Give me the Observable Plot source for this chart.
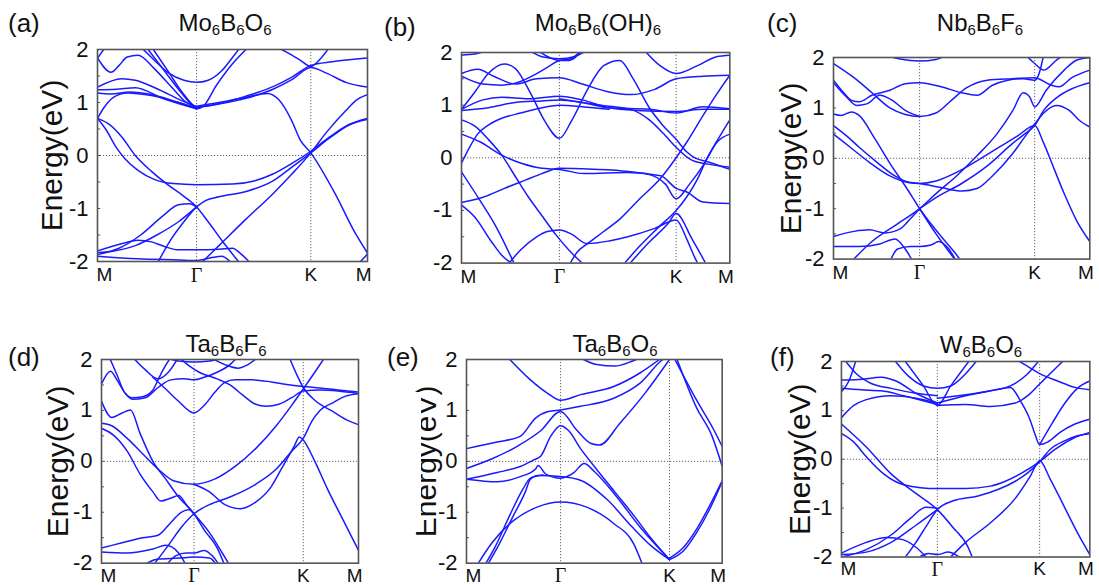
<!DOCTYPE html>
<html><head><meta charset="utf-8">
<script src="https://cdn.jsdelivr.net/npm/d3@7"></script>
<script src="https://cdn.jsdelivr.net/npm/@observablehq/plot@0.6"></script>
<style>
body{margin:0;background:#fff;}
#fig{position:relative;width:1099px;height:585px;overflow:hidden;font-family:"Liberation Sans",Arial,sans-serif;color:#111;}
.pl{position:absolute;}
.title{position:absolute;font-size:24px;line-height:1;white-space:nowrap;transform:translateX(-50%);}
.title sub{font-size:15px;vertical-align:-4px;line-height:0;}
.tag{position:absolute;font-size:26px;line-height:1;}
.mask{position:absolute;background:#fff;}
</style></head><body><div id="fig"></div>
<script>
// ---------- shared labels ----------
const kLabels = ["M", "Γ", "K", "M"];
const yTicks = [-2, -1, 0, 1, 2];
const minorTicks = [-1.5, -1, -0.5, 0, 0.5, 1, 1.5];

// high-symmetry positions (fraction of path) per panel
const hsA = [0, 0.367, 0.79, 1];
const hsB = [0, 0.365, 0.8, 1];
const hsC = [0, 0.336, 0.785, 1];
const hsD = [0, 0.36, 0.785, 1];
const hsE = [0, 0.368, 0.794, 1];
const hsF = [0, 0.386, 0.798, 1];

// ---------- (a) Mo6B6O6 bands [k, E] ----------
const bandsA = [
 [[0,0.7],[0.04,0.6],[0.09,0.35],[0.14,0],[0.2,-0.3],[0.26,-0.55],[0.32,-0.77],[0.367,-0.97],[0.41,-1.25],[0.46,-1.6],[0.53,-2.05]],
 [[0,0.7],[0.03,0.5],[0.07,0.15],[0.1,-0.05],[0.15,-0.28],[0.21,-0.45],[0.28,-0.53],[0.367,-0.55],[0.5,-0.54],[0.58,-0.48],[0.65,-0.35],[0.72,-0.15],[0.79,0.08],[0.86,0.35],[0.93,0.58],[1,0.7]],
 [[0.22,-2.05],[0.27,-1.6],[0.32,-1.25],[0.367,-0.97],[0.4,-0.85],[0.45,-0.78],[0.55,-0.68],[0.65,-0.48],[0.72,-0.22],[0.79,0.05],[0.86,0.33],[0.93,0.57],[1,0.68]],
 [[0.38,-2.05],[0.45,-1.7],[0.55,-1.2],[0.65,-0.72],[0.72,-0.35],[0.79,0.05],[0.85,0.45],[0.92,0.85],[0.96,1.05],[1,1.15]],
 [[0.367,0.93],[0.45,1.0],[0.55,1.1],[0.63,1.17],[0.67,1.06],[0.72,0.65],[0.75,0.3],[0.79,0.05],[0.88,-0.72],[0.95,-1.42],[1,-1.84]],
 [[0.16,2.05],[0.2,1.85],[0.26,1.57],[0.32,1.42],[0.367,1.38],[0.41,1.42],[0.46,1.6],[0.5,1.85],[0.53,2.05]],
 [[0.18,2.05],[0.24,1.65],[0.3,1.25],[0.35,0.95],[0.367,0.88],[0.39,0.92],[0.44,1.32],[0.5,1.73],[0.56,2.05]],
 [[0.2,2.05],[0.26,1.6],[0.32,1.15],[0.367,0.92],[0.45,0.98],[0.55,1.12],[0.65,1.3],[0.72,1.48],[0.79,1.7],[0.87,1.77],[1,1.84]],
 [[0.367,0.9],[0.45,0.97],[0.55,1.08],[0.65,1.25],[0.72,1.43],[0.79,1.66],[0.85,1.55],[0.92,1.38],[1,1.29]],
 [[0.66,2.05],[0.7,1.95],[0.75,1.8],[0.79,1.68],[0.83,1.85],[0.86,2.05]],
 [[0,1.84],[0.05,1.57],[0.08,1.7],[0.11,1.86],[0.15,1.89],[0.21,1.64],[0.28,1.26],[0.33,1.0],[0.367,0.92]],
 [[0,1.84],[0.03,2.05]],
 [[0,1.29],[0.09,1.45],[0.14,1.42],[0.22,1.26],[0.31,1.04],[0.367,0.92]],
 [[0,1.24],[0.07,1.25],[0.14,1.28],[0.24,1.08],[0.367,0.88]],
 [[0,1.18],[0.05,1.16],[0.12,1.2],[0.2,1.15],[0.3,1.0],[0.367,0.9]],
 [[0,0.7],[0.025,0.91],[0.06,1.1],[0.11,1.18],[0.2,1.13],[0.3,1.0],[0.367,0.88]],
 [[0,-1.83],[0.06,-1.8],[0.14,-1.7],[0.22,-1.5],[0.3,-1.25],[0.367,-0.97]],
 [[0,-1.87],[0.08,-1.75],[0.16,-1.5],[0.24,-1.15],[0.3,-0.93],[0.34,-0.91],[0.367,-0.97]],
 [[0,-1.8],[0.1,-1.65],[0.15,-1.6],[0.2,-1.63],[0.25,-1.72],[0.3,-1.78],[0.367,-1.78],[0.45,-1.77],[0.5,-1.75],[0.53,-1.85],[0.57,-2.05]],
 [[0,-1.9],[0.15,-1.95],[0.3,-1.97],[0.367,-1.98],[0.42,-1.93],[0.46,-1.9],[0.5,-2.05]],
 [[0.965,-2.05],[1,-1.86]]
];

// ---------- (b) Mo6B6(OH)6 ----------
const bandsB = [
 [[0,0.92],[0.05,1.25],[0.1,1.6],[0.16,1.78],[0.2,1.7],[0.26,1.2],[0.31,0.7],[0.365,0.37],[0.41,0.7],[0.47,1.3],[0.53,1.75],[0.59,1.85],[0.64,1.5],[0.7,0.95],[0.75,0.62],[0.8,0.35],[0.84,0.11],[0.87,0.0],[0.92,-0.08],[1,-0.22]],
 [[0,0.92],[0.08,1.1],[0.15,1.15],[0.25,1.12],[0.365,1.17],[0.45,1.1],[0.55,0.95],[0.65,0.9],[0.8,0.88],[0.9,0.92],[1,0.92]],
 [[0,0.9],[0.1,0.95],[0.2,1.05],[0.3,1.08],[0.365,1.1],[0.45,1.05],[0.55,0.95],[0.7,0.92],[0.8,0.85],[0.9,0.97],[1,0.93]],
 [[0,1.6],[0.06,1.68],[0.12,1.55],[0.2,1.4],[0.28,1.5],[0.365,1.52],[0.45,1.4],[0.55,1.25],[0.63,1.2],[0.72,1.3],[0.8,1.5],[0.9,1.55],[1,1.57]],
 [[0,1.55],[0.08,1.4],[0.15,1.38],[0.22,1.45],[0.28,1.6],[0.33,1.75],[0.365,1.85],[0.4,1.87],[0.45,2.05]],
 [[0,1.95],[0.05,1.97],[0.1,2.05]],
 [[0.25,2.05],[0.3,1.92],[0.365,1.88],[0.42,1.92],[0.47,2.05]],
 [[0.68,2.05],[0.74,1.75],[0.8,1.6],[0.88,1.75],[0.95,1.92],[1,1.95]],
 [[0,0.45],[0.07,0.3],[0.15,0.05],[0.22,-0.1],[0.3,-0.2],[0.365,-0.22],[0.456,-0.3],[0.54,-0.29],[0.617,-0.28],[0.742,-0.34],[0.8,-0.58],[0.84,-0.65],[0.9,-0.84],[1,-0.87]],
 [[0,-0.85],[0.08,-0.75],[0.16,-0.58],[0.24,-0.42],[0.3,-0.3],[0.365,-0.2],[0.45,-0.21],[0.6,-0.25],[0.7,-0.32],[0.76,-0.5],[0.8,-0.78],[0.85,-0.5],[0.9,-0.15],[0.95,0.3],[1,0.72]],
 [[0,0.72],[0.05,0.6],[0.1,0.35],[0.15,0.05],[0.2,-0.35],[0.25,-0.75],[0.3,-1.1],[0.35,-1.45],[0.4,-1.75],[0.46,-2.05]],
 [[0,-0.1],[0.03,0.2],[0.06,0.45],[0.1,0.62],[0.15,0.75],[0.22,0.85],[0.3,0.95],[0.365,1.0],[0.45,0.97],[0.55,0.92]],
 [[0,-0.27],[0.07,-0.82],[0.13,-1.32],[0.2,-2.05]],
 [[0,-0.9],[0.05,-1.13],[0.11,-1.58],[0.15,-1.85],[0.2,-2.05]],
 [[0.17,-2.05],[0.22,-1.75],[0.28,-1.5],[0.32,-1.4],[0.365,-1.37],[0.41,-1.45],[0.468,-1.63],[0.55,-1.58],[0.62,-1.5],[0.72,-1.34],[0.8,-1.18],[0.84,-1.55],[0.87,-1.9],[0.885,-2.05]],
 [[0.4,-2.05],[0.43,-1.8],[0.47,-1.63],[0.53,-1.4],[0.593,-1.15],[0.66,-0.8],[0.742,-0.39],[0.8,0.0],[0.84,0.3],[0.9,0.8],[0.95,1.2],[1,1.57]],
 [[0.6,-2.05],[0.66,-1.7],[0.73,-1.34],[0.8,-1.0],[0.84,-0.74],[0.88,-0.4],[0.916,0.0],[0.953,0.3],[1,0.45]],
 [[0.62,-2.05],[0.7,-1.6],[0.77,-1.25],[0.8,-1.06],[0.86,-1.55],[0.915,-2.05]],
 [[0.365,1.12],[0.45,1.05],[0.55,0.98],[0.63,0.92],[0.7,0.72],[0.76,0.42],[0.8,0.2],[0.86,-0.05],[0.92,-0.12],[1,-0.18]],
 [[0.28,2.05],[0.33,1.9],[0.365,1.85],[0.4,1.85],[0.45,2.05]]
];

// ---------- (c) Nb6B6F6 ----------
const bandsC = [
 [[0,0.48],[0.07,0.2],[0.14,-0.08],[0.22,-0.35],[0.29,-0.48],[0.336,-0.5],[0.4,-0.45],[0.48,-0.28],[0.56,-0.05],[0.64,0.2],[0.72,0.45],[0.785,0.65],[0.82,0.3],[0.86,-0.2],[0.9,-0.7],[0.95,-1.25],[1,-1.65]],
 [[0,0.65],[0.05,0.45],[0.1,0.22],[0.17,-0.08],[0.23,-0.32],[0.29,-0.47],[0.336,-0.5],[0.42,-0.58],[0.5,-0.65],[0.56,-0.6],[0.62,-0.35],[0.7,0.1],[0.75,0.45],[0.785,0.68],[0.82,0.9],[0.87,1.05],[0.92,0.95],[0.96,0.75],[1,0.62]],
 [[0.336,-1.0],[0.4,-0.78],[0.5,-0.5],[0.6,-0.15],[0.7,0.3],[0.75,0.5],[0.785,0.65],[0.82,0.95],[0.87,1.2],[0.93,1.38],[1,1.5]],
 [[0.07,-2.05],[0.15,-1.65],[0.25,-1.3],[0.336,-1.0],[0.4,-0.7],[0.48,-0.35],[0.56,0.05],[0.64,0.5],[0.7,0.95],[0.74,1.3],[0.765,1.22],[0.785,1.02],[0.83,1.35],[0.9,1.75],[0.95,1.95],[1,2.0]],
 [[0,0.88],[0.03,0.85],[0.07,0.92],[0.1,0.85],[0.16,0.4],[0.22,-0.1],[0.28,-0.55],[0.336,-1.0],[0.4,-1.5],[0.45,-1.85],[0.48,-2.05]],
 [[0,1.88],[0.08,1.6],[0.15,1.3],[0.22,1.0],[0.28,0.87],[0.336,0.83],[0.4,0.9],[0.46,1.15],[0.52,1.4],[0.6,1.55],[0.7,1.58],[0.785,1.6],[0.85,1.45],[0.88,1.42],[0.93,1.6],[1,1.75]],
 [[0,1.55],[0.04,1.3],[0.07,1.15],[0.1,1.12],[0.15,1.25],[0.22,1.35],[0.28,1.48],[0.336,1.5],[0.42,1.42],[0.5,1.3],[0.56,1.25],[0.62,1.45],[0.68,1.55],[0.74,1.58],[0.785,1.55],[0.8,1.65],[0.82,2.05]],
 [[0,1.5],[0.05,1.22],[0.09,1.05],[0.13,1.08],[0.18,1.25],[0.23,1.15],[0.28,0.95],[0.336,0.83]],
 [[0.2,2.05],[0.26,1.97],[0.336,1.93],[0.4,1.96],[0.44,2.05]],
 [[0.75,2.05],[0.785,1.88],[0.82,1.75],[0.87,1.95],[0.9,2.05]],
 [[0,-1.55],[0.08,-1.45],[0.14,-1.42],[0.2,-1.48],[0.26,-1.4],[0.3,-1.2],[0.336,-1.0]],
 [[0,-1.75],[0.1,-1.75],[0.18,-1.7],[0.24,-1.6],[0.28,-1.8],[0.31,-2.05]],
 [[0.22,-2.05],[0.25,-1.8],[0.3,-1.75],[0.336,-1.75],[0.38,-1.72],[0.41,-1.65],[0.45,-1.8],[0.48,-2.05]],
 [[0.336,-1.0],[0.38,-1.3],[0.42,-1.55],[0.47,-1.85],[0.5,-2.05]]
];

// ---------- (d) Ta6B6F6 ----------
const bandsD = [
 [[0,0.75],[0.04,0.7],[0.1,0.45],[0.16,0.15],[0.22,-0.15],[0.28,-0.38],[0.36,-0.45],[0.44,-0.35],[0.52,-0.1],[0.6,0.25],[0.68,0.7],[0.74,1.1],[0.785,1.42],[0.83,1.75],[0.87,2.05]],
 [[0,0.65],[0.05,0.5],[0.1,0.2],[0.15,-0.25],[0.2,-0.6],[0.23,-0.78],[0.27,-0.72],[0.3,-0.67],[0.33,-0.85],[0.36,-1.03],[0.42,-1.4],[0.47,-1.8],[0.5,-2.05]],
 [[0.2,-2.05],[0.26,-1.65],[0.31,-1.3],[0.36,-1.03],[0.42,-0.85],[0.5,-0.7],[0.6,-0.45],[0.68,-0.15],[0.74,0.2],[0.785,0.45],[0.82,0.8],[0.85,1.0],[0.9,1.15],[0.95,1.28],[1,1.33]],
 [[0.36,-0.45],[0.42,-0.6],[0.48,-0.85],[0.54,-0.93],[0.6,-0.8],[0.66,-0.5],[0.7,-0.15],[0.75,0.3],[0.77,0.48],[0.785,0.42],[0.83,0.0],[0.88,-0.55],[0.94,-1.15],[1,-1.75]],
 [[0.2,1.65],[0.25,1.42],[0.3,1.18],[0.36,0.95],[0.4,1.1],[0.44,1.35],[0.48,1.55],[0.52,1.6],[0.586,1.6],[0.66,1.56],[0.72,1.51],[0.785,1.47],[0.85,1.44],[0.92,1.4],[1,1.36]],
 [[0.3,2.05],[0.34,1.88],[0.38,1.75],[0.45,1.62],[0.5,1.5],[0.55,1.3],[0.6,1.12],[0.64,1.08],[0.69,1.12],[0.74,1.25],[0.785,1.38],[0.85,1.4],[0.92,1.38],[1,1.33]],
 [[0,1.18],[0.04,0.86],[0.08,0.95],[0.113,1.01],[0.15,0.55],[0.2,0.0],[0.25,-0.35],[0.3,-0.7],[0.36,-1.03],[0.4,-1.35],[0.45,-1.7],[0.48,-2.05]],
 [[0,1.52],[0.035,1.77],[0.06,1.6],[0.09,1.35],[0.12,1.22],[0.17,1.25],[0.22,1.45],[0.27,1.6],[0.32,1.62],[0.36,1.6],[0.4,1.65],[0.45,1.75],[0.5,1.9],[0.53,2.05]],
 [[0.03,2.05],[0.06,1.7],[0.09,1.35],[0.12,1.25],[0.16,1.27],[0.2,1.4],[0.22,1.6],[0.24,1.8],[0.27,2.05]],
 [[0.12,2.05],[0.17,1.8],[0.22,1.62],[0.26,1.75],[0.3,2.05]],
 [[0.24,2.05],[0.3,1.97],[0.36,1.95],[0.42,1.97],[0.48,2.05]],
 [[0.42,2.05],[0.48,1.9],[0.53,1.83],[0.57,1.9],[0.61,2.05]],
 [[0.73,2.05],[0.76,1.7],[0.785,1.45],[0.83,1.2],[0.9,0.98],[0.96,0.8],[1,0.72]],
 [[0,-1.7],[0.08,-1.6],[0.16,-1.5],[0.22,-1.45],[0.27,-1.2],[0.31,-1.0],[0.34,-0.95],[0.36,-1.03]],
 [[0,-1.78],[0.1,-1.8],[0.2,-1.72],[0.25,-1.65],[0.3,-1.8],[0.33,-2.05]],
 [[0.25,-2.05],[0.29,-1.85],[0.33,-1.8],[0.36,-1.8],[0.4,-1.75],[0.43,-1.85],[0.46,-2.05]],
 [[0.16,-2.05],[0.22,-1.92],[0.3,-1.9],[0.36,-1.88],[0.42,-1.9],[0.45,-2.05]]
];

// ---------- (e) Ta6B6O6 ----------
const bandsE = [
 [[0.16,2.05],[0.25,1.6],[0.316,1.34],[0.368,1.2],[0.446,1.31],[0.576,1.47],[0.68,1.74],[0.76,2.02]],
 [[0.45,2.02],[0.51,1.9],[0.58,1.87],[0.65,1.97],[0.68,2.03]],
 [[0,0.25],[0.12,0.38],[0.21,0.49],[0.27,0.85],[0.32,0.98],[0.368,1.01],[0.446,1.08],[0.576,1.24],[0.68,1.54],[0.76,1.97],[0.78,2.05]],
 [[0,-0.14],[0.1,0.05],[0.2,0.3],[0.29,0.6],[0.368,0.98],[0.43,0.62],[0.487,0.35],[0.52,0.32],[0.6,0.75],[0.7,1.35],[0.794,2.0]],
 [[0,-0.35],[0.12,-0.22],[0.21,-0.1],[0.26,0.02],[0.29,0.1],[0.33,0.5],[0.368,0.7],[0.4,0.6],[0.446,0.25],[0.5,-0.1],[0.58,-0.6],[0.66,-1.1],[0.72,-1.5],[0.794,-1.93]],
 [[0,-0.35],[0.12,-0.4],[0.21,-0.3],[0.27,-0.15],[0.28,-0.08],[0.31,-0.25],[0.368,-0.33],[0.42,-0.22],[0.46,-0.04],[0.5,-0.2],[0.58,-0.65],[0.68,-1.3],[0.794,-1.93]],
 [[0.08,-2.05],[0.12,-1.7],[0.18,-1.1],[0.23,-0.6],[0.25,-0.35],[0.28,-0.28],[0.368,-0.3],[0.45,-0.38],[0.55,-0.75],[0.65,-1.3],[0.72,-1.65],[0.794,-1.93]],
 [[0.07,-2.05],[0.11,-1.7],[0.17,-1.05],[0.22,-0.55],[0.25,-0.33],[0.3,-0.27]],
 [[0.04,-2.05],[0.1,-1.6],[0.185,-1.16],[0.276,-0.9],[0.368,-0.8],[0.47,-0.9],[0.576,-1.22],[0.654,-1.62],[0.69,-2.05]],
 [[0.794,-1.93],[0.85,-1.75],[0.9,-1.4],[0.95,-0.95],[1,-0.4]],
 [[0.794,-1.9],[0.85,-1.68],[0.9,-1.33],[0.95,-0.88],[1,-0.38]],
 [[0.81,2.05],[0.9,1.2],[0.967,0.62],[1,0.29]],
 [[0.82,2.05],[0.9,1.05],[0.96,0.5],[1,-0.1]]
];

// ---------- (f) W6B6O6 ----------
const bandsF = [
 [[0,0.72],[0.1,0.25],[0.2,-0.3],[0.3,-0.7],[0.386,-1.03],[0.45,-1.4],[0.51,-1.8],[0.53,-2.05]],
 [[0,0.53],[0.05,0.35],[0.1,0.05],[0.17,-0.3],[0.25,-0.52],[0.386,-0.6],[0.5,-0.6],[0.6,-0.55],[0.66,-0.45],[0.72,-0.3],[0.798,-0.05],[0.86,0.2],[0.93,0.42],[1,0.55]],
 [[0.25,-2.05],[0.3,-1.7],[0.35,-1.3],[0.386,-1.03],[0.45,-0.85],[0.55,-0.75],[0.63,-0.62],[0.7,-0.45],[0.75,-0.28],[0.798,-0.05],[0.84,0.2],[0.9,0.38],[0.95,0.48],[1,0.52]],
 [[0.43,-2.05],[0.5,-1.7],[0.6,-1.3],[0.7,-0.8],[0.76,-0.35],[0.798,-0.03],[0.84,-0.4],[0.9,-1.0],[0.95,-1.5],[1,-1.95]],
 [[0.386,1.15],[0.5,1.3],[0.6,1.4],[0.68,1.47],[0.72,1.2],[0.76,0.8],[0.78,0.5],[0.798,0.3],[0.83,0.35],[0.88,0.55],[0.94,0.72],[1,0.82]],
 [[0.21,2.05],[0.27,1.7],[0.33,1.5],[0.386,1.45],[0.44,1.5],[0.5,1.75],[0.55,2.05]],
 [[0.25,2.05],[0.33,1.5],[0.386,1.1],[0.44,1.5],[0.52,2.05]],
 [[0.386,1.25],[0.5,1.32],[0.6,1.4],[0.68,1.5],[0.75,1.75],[0.8,2.05]],
 [[0.7,2.05],[0.75,1.9],[0.798,1.75],[0.87,1.6],[0.94,1.47],[1,1.42]],
 [[0.798,0.3],[0.85,0.75],[0.9,1.15],[0.95,1.45],[1,1.6]],
 [[0,1.62],[0.07,1.63],[0.16,1.68],[0.22,1.6],[0.3,1.35],[0.386,1.15]],
 [[0,1.45],[0.08,1.42],[0.16,1.4],[0.25,1.3],[0.386,1.12]],
 [[0.386,1.1],[0.5,1.12],[0.6,1.08],[0.7,1.15],[0.75,1.3],[0.8,1.55],[0.85,1.8],[0.9,2.05]],
 [[0,0.85],[0.05,1.1],[0.1,1.22],[0.2,1.3],[0.3,1.25],[0.386,1.15]],
 [[0,1.38],[0.03,1.6],[0.06,2.05]],
 [[0.01,2.05],[0.06,1.75],[0.12,1.55],[0.2,1.45],[0.3,1.35],[0.386,1.3]],
 [[0,-1.95],[0.1,-1.9],[0.2,-1.7],[0.3,-1.35],[0.386,-1.03]],
 [[0,-2.0],[0.1,-1.85],[0.2,-1.55],[0.28,-1.2],[0.34,-0.98],[0.386,-1.0]],
 [[0,-1.92],[0.1,-1.7],[0.18,-1.6],[0.25,-1.65],[0.3,-1.8],[0.35,-2.05]],
 [[0.3,-2.05],[0.35,-1.93],[0.386,-1.95],[0.43,-1.9],[0.48,-2.0],[0.52,-2.05]]
];

// ---------- layout config (frame in page pixels) ----------
const panels = [
 {bands: bandsA, hs: hsA, l: 96.7, r: 366.7, t: 49, b: 261, lab: 44.7, xdy: 6},
 {bands: bandsB, hs: hsB, l: 461, r: 729.3, t: 51.7, b: 262.3, lab: null, xdy: 6},
 {bands: bandsC, hs: hsC, l: 832.7, r: 1089, t: 56.7, b: 258.3, lab: 42, xdy: 6},
 {bands: bandsD, hs: hsD, l: 100.7, r: 357.7, t: 359, b: 562.7, lab: 42.7, xdy: 5},
 {bands: bandsE, hs: hsE, l: 466, r: 721.7, t: 359, b: 562.7, lab: 40.6, xdy: 5},
 {bands: bandsF, hs: hsF, l: 840.7, r: 1089.3, t: 361, b: 556.7, lab: 40.7, xdy: 5}
];
const titles = [
 {html: "Mo<sub>6</sub>B<sub>6</sub>O<sub>6</sub>", cx: 225, top: 11},
 {html: "Mo<sub>6</sub>B<sub>6</sub>(OH)<sub>6</sub>", cx: 598, top: 11},
 {html: "Nb<sub>6</sub>B<sub>6</sub>F<sub>6</sub>", cx: 980, top: 11},
 {html: "Ta<sub>6</sub>B<sub>6</sub>F<sub>6</sub>", cx: 226, top: 332},
 {html: "Ta<sub>6</sub>B<sub>6</sub>O<sub>6</sub>", cx: 615, top: 332},
 {html: "W<sub>6</sub>B<sub>6</sub>O<sub>6</sub>", cx: 981, top: 333}
];
const tags = [
 {t: "(a)", x: 8, y: 10}, {t: "(b)", x: 384, y: 14}, {t: "(c)", x: 767, y: 10},
 {t: "(d)", x: 8, y: 344}, {t: "(e)", x: 387, y: 344}, {t: "(f)", x: 770, y: 344}
];

const fig = document.getElementById("fig");
const SANS = '"Liberation Sans", Arial, sans-serif';
const SERIF = '"Liberation Serif", "Times New Roman", serif';
const BLUE = "#1a1aff";
const GRAY = "#555";

function panel(cfg) {
  const rows = cfg.bands.flatMap((b, i) => b.map(([k, E]) => ({band: i, k, E})));
  const mL = 72, mR = 10, mT = 14, mB = 28;
  const W = cfg.r - cfg.l, H = cfg.b - cfg.t;
  const hs = cfg.hs;
  const lab = {frameAnchor: "bottom", lineAnchor: "top", dy: cfg.xdy, fontSize: 19};
  const marks = [
    Plot.ruleY([0], {stroke: GRAY, strokeWidth: 0.9, strokeDasharray: "1.2,1.8"}),
    Plot.ruleX([hs[1], hs[2]], {stroke: GRAY, strokeWidth: 0.9, strokeDasharray: "1.2,1.8"}),
    Plot.line(rows, {x: "k", y: "E", z: "band", stroke: BLUE, strokeWidth: 1.5, curve: "monotone-x", clip: true}),
    Plot.ruleY(minorTicks, {x1: 0, x2: 0.012, stroke: GRAY, strokeWidth: 1}),
    Plot.frame({stroke: GRAY, strokeWidth: 1.6}),
    Plot.axisY(yTicks, {anchor: "left", tickSize: 0, tickPadding: 9, fontSize: 22, label: null,
      tickFormat: d => (d < 0 ? "-" + Math.abs(d) : String(d))}),
    Plot.text([0], {...lab, x: i => hs[i], text: i => kLabels[i], textAnchor: "start", dx: -1}),
    Plot.text([1], {...lab, x: i => hs[i], text: i => kLabels[i], textAnchor: "middle", fontSize: 20, fontFamily: SERIF}),
    Plot.text([2], {...lab, x: i => hs[i], text: i => kLabels[i], textAnchor: "middle"}),
    Plot.text([3], {...lab, x: i => hs[i], text: i => kLabels[i], textAnchor: "end", dx: 4})
  ];
  if (cfg.lab != null) {
    marks.push(Plot.text(["Energy(eV)"], {text: d => d, frameAnchor: "left", rotate: -90, dx: -cfg.lab, fontSize: 30, textAnchor: "middle", lineAnchor: "middle"}));
  }
  const svg = Plot.plot({
    width: W + mL + mR, height: H + mT + mB,
    marginLeft: mL, marginRight: mR, marginTop: mT, marginBottom: mB,
    x: {domain: [0, 1], axis: null},
    y: {domain: [-2, 2]},
    style: {fontFamily: SANS, background: "none", overflow: "visible", color: "#111"},
    marks
  });
  const wrap = document.createElement("div");
  wrap.className = "pl";
  wrap.style.left = (cfg.l - mL) + "px";
  wrap.style.top = (cfg.t - mT) + "px";
  wrap.appendChild(svg);
  fig.appendChild(wrap);
}
panels.forEach(panel);

// the reference's (e) axis title is cut off on its left side
const mask = document.createElement("div");
mask.className = "mask";
Object.assign(mask.style, {left: "398px", top: "392px", width: "22.5px", height: "140px"});
fig.appendChild(mask);

titles.forEach(tt => {
  const d = document.createElement("div");
  d.className = "title";
  d.innerHTML = tt.html;
  d.style.left = tt.cx + "px";
  d.style.top = tt.top + "px";
  fig.appendChild(d);
});
tags.forEach(tg => {
  const d = document.createElement("div");
  d.className = "tag";
  d.textContent = tg.t;
  d.style.left = tg.x + "px";
  d.style.top = tg.y + "px";
  fig.appendChild(d);
});
</script></body></html>
